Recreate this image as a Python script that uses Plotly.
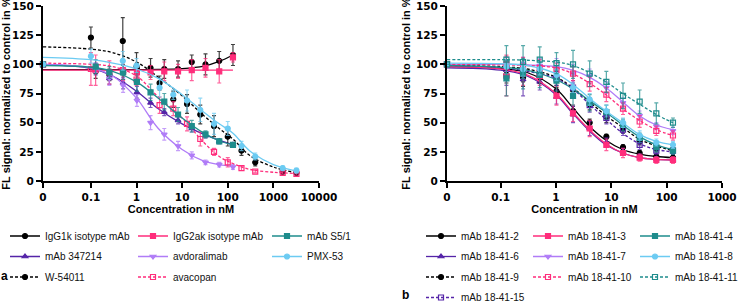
import math
import plotly.graph_objects as go

# ---------------- data ----------------
# concentrations (nM); 0 = untreated control
MAB_CONC = [0, 0.127, 0.254, 0.508, 1.02, 2.03, 4.06, 8.13, 16.25, 32.5, 65, 130]
SM_CONC = [0, 0.1, 0.5, 1, 3.2, 6.4, 12.8, 25, 50, 100, 200, 400, 1600, 3200]

# fitted-curve sample concentrations
CURVE_X_A = [0, 0.1, 0.3, 1, 3, 10, 30, 65, 130, 300, 1000, 3200]
CURVE_X_B = [0, 0.1, 0.3, 1, 2, 4, 8, 16, 32, 65, 130]

# panel a
igg1k_y = [100, 94, 91, 93, 96, 97, 96, 96, 102, 100, 103, 108]
igg1k_err = [0, 6, 5, 6, 5, 8, 8, 7, 6, 9, 8, 9]
igg1k_fit = [95.5, 95.5, 95.5, 95.5, 95.6, 96.3, 98.5, 102.5, 108, None, None, None]

igg2ak_y = [100, 95, 93, 94, 93, 93, 94, 94, 95, 97, 94, 106]
igg2ak_err = [0, 13, 10, 8, 5, 6, 8, 6, 9, 8, 10, 4]
igg2ak_fit = [95, 95, 95, 95, 95, 95, 95, 95, 95, None, None, None]

s51_y = [100, 98, 93, 93, 85, 76, 68, 57, 47, 40, 34, 31]
s51_err = [0, 6, 5, 6, 8, 7, 7, 6, 5, 3, 2, 2]
s51_fit = [99, 97.5, 94, 85, 71, 54, 41, 34.5, 31, None, None, None]

m347214_y = [100, 96, 88, 84, 76, 67, 59, 52, 45, 39, 34, 31]
m347214_err = [0, 5, 5, 5, 5, 4, 3, 3, 3, 2, 2, 2]
m347214_fit = [100, 96.5, 90, 77, 62, 49, 40, 35, 31, None, None, None]

avdor_y = [100, 97, 88, 82, 69, 50, 40, 30, 22, 16, 14, 12]
avdor_err = [0, 4, 6, 6, 5, 6, 5, 4, 3, 2, 2, 2]
avdor_fit = [100, 97, 90, 71, 45, 27, 17, 14, 12.5, None, None, None]

pmx_y = [100, 107, 103, 99, 80, 74, 69, 61, 49, 45, 30, 21, 11, 9]
pmx_err = [0, 6, 8, 6, 8, 4, 9, 10, 9, 6, 4, 3, 2, 2]
pmx_fit = [106, 104, 101, 96, 88, 74, 59, 49, 41, 26, 14, 8.5]

w54011_y = [100, 123, 120, 98, 84, 70, 66, 57, 47, 38, 26, 16, 8, 7]
w54011_err = [0, 9, 20, 12, 6, 7, 8, 8, 9, 8, 4, 3, 2, 2]
w54011_fit = [115, 113, 110, 102, 89, 73, 56, 45, 36, 22, 12, 7]

avac_y = [100, 96, 95, 87, 65, 62, 49, 36, 25, 16, 11, 8, 7, 6]
avac_err = [0, 14, 8, 5, 7, 6, 6, 6, 3, 4, 2, 1, 1, 1]
avac_fit = [101, 100, 98, 90, 72, 54, 33, 21, 15, 10, 7.5, 6.5]

# panel b
b2_y = [100, 91, 89, 89, 77, 60, 50, 38, 29, 24, 21, 20]
b2_err = [0, 7, 8, 5, 3, 4, 3, 2, 2, 2, 2, 2]
b2_fit = [98, 96.5, 93, 79, 63, 47, 35, 27, 23, 21, 20]

b3_y = [100, 90, 92, 90, 73, 58, 45, 31, 24, 20, 18, 18]
b3_err = [0, 17, 10, 8, 8, 7, 7, 5, 4, 3, 3, 3]
b3_fit = [98, 96, 91, 75, 59, 44, 32, 24, 20, 18.5, 18]

b4_y = [100, 88, 92, 91, 86, 73, 67, 59, 48, 37, 29, 26]
b4_err = [0, 15, 13, 11, 9, 8, 7, 6, 5, 4, 4, 3]
b4_fit = [99, 97.5, 95, 87, 79, 69, 59, 48, 38, 31, 27]

b6_y = [100, 90, 87, 85, 72, 57, 45, 33, 25, 21, 19, 18]
b6_err = [0, 8, 14, 7, 6, 7, 6, 4, 3, 2, 2, 2]
b6_fit = [97, 95, 90, 74, 58, 43, 31, 24, 20, 18.5, 18]

b7_y = [100, 100, 100, 99, 97, 92, 90, 80, 67, 56, 47, 43]
b7_err = [0, 6, 6, 6, 8, 8, 6, 5, 4, 4, 3, 3]
b7_fit = [100, 100, 99.5, 98, 95, 89, 80, 68, 56, 48, 44]

b8_y = [100, 98, 96, 96, 91, 80, 70, 60, 50, 39, 33, 31]
b8_err = [0, 6, 6, 5, 5, 4, 5, 5, 4, 4, 3, 3]
b8_fit = [101, 100.5, 99, 92, 83, 71, 60, 50, 40, 34, 31]

b9_y = [100, 95, 93, 90, 88, 78, 66, 55, 45, 34, 28, 26]
b9_err = [0, 8, 8, 6, 6, 6, 5, 5, 4, 3, 3, 3]
b9_fit = [99, 98, 96, 89, 80, 68, 56, 46, 36, 30, 26]

b10_y = [100, 100, 98, 97, 95, 92, 83, 74, 62, 51, 43, 39]
b10_err = [0, 8, 8, 7, 6, 6, 6, 6, 5, 5, 4, 4]
b10_fit = [100, 99.5, 99, 97, 92, 84, 74, 62, 52, 44, 39]

b11_y = [100, 104, 102, 104, 101, 100, 92, 85, 73, 68, 58, 50]
b11_err = [0, 12, 14, 11, 9, 12, 11, 9, 11, 10, 9, 4]
b11_fit = [104, 104, 103.5, 102, 99, 93, 85, 75, 66, 57, 50]

b15_y = [100, 96, 93, 91, 88, 80, 65, 54, 44, 31, 26, 26]
b15_err = [0, 8, 7, 6, 6, 6, 6, 5, 5, 4, 3, 3]
b15_fit = [98, 97, 94, 88, 79, 66, 53, 41, 32, 27, 25]

TICKS_A = ["0", "0.1", "1", "10", "100", "1000", "10000"]
TICKS_B = ["0", "0.1", "1", "10", "100", "1000"]
Y_TICKS = [0, 25, 50, 75, 100, 125, 150]

# ---------------- styling ----------------
BLACK = "#000000"
PINK = "#FF2D7B"
TEAL = "#1E8C8C"
PURPLE = "#5524A8"
LPURPLE = "#B07CF7"
LBLUE = "#6CCBF2"

W, H = 739, 304
ZA = 10 ** -2.05   # axis position used for concentration 0 (panel a)
ZB = 10 ** -1.97   # axis position used for concentration 0 (panel b)


def px_x(p):
    return p / W


def px_y(p):
    return 1 - p / H


def rgba(hexc, a):
    h = hexc.lstrip("#")
    return "rgba(%d,%d,%d,%.2f)" % (int(h[0:2], 16), int(h[2:4], 16), int(h[4:6], 16), a)


fig = go.Figure()


def add_series(name, conc, y, err, cx, cy, color, symbol, dash, zero, xa, ya, legend):
    xs = [zero if c == 0 else c for c in conc]
    cxs = [zero if c == 0 else c for c in cx]
    fig.add_trace(go.Scatter(
        x=cxs, y=cy, mode="lines", line=dict(color=color, width=1.3, dash=dash, shape="spline", smoothing=1.0),
        showlegend=False, hoverinfo="skip", xaxis=xa, yaxis=ya, connectgaps=False))
    fig.add_trace(go.Scatter(
        x=xs, y=y, mode="markers",
        marker=dict(color=color, symbol=symbol, size=5, line=dict(color=color, width=1.2)),
        error_y=dict(type="data", array=err, color=rgba(color, 0.75), thickness=1.2, width=2),
        showlegend=False, cliponaxis=False, xaxis=xa, yaxis=ya, name=name))
    fig.add_trace(go.Scatter(
        x=[None], y=[None], mode="lines+markers", name=name,
        line=dict(color=color, width=1.3, dash=dash),
        marker=dict(color=color, symbol=symbol, size=5, line=dict(color=color, width=1.2)),
        xaxis=xa, yaxis=ya, legend=legend, legendgroup=name))


SOLID = "solid"
DASH = "3px,2px"

# panel a
add_series("IgG1k isotype mAb", MAB_CONC, igg1k_y, igg1k_err, CURVE_X_A, igg1k_fit, BLACK, "circle", SOLID, ZA, "x", "y", "legend")
add_series("mAb 347214", MAB_CONC, m347214_y, m347214_err, CURVE_X_A, m347214_fit, PURPLE, "triangle-up", SOLID, ZA, "x", "y", "legend")
add_series("W-54011", SM_CONC, w54011_y, w54011_err, CURVE_X_A, w54011_fit, BLACK, "circle", DASH, ZA, "x", "y", "legend")
add_series("IgG2ak isotype mAb", MAB_CONC, igg2ak_y, igg2ak_err, CURVE_X_A, igg2ak_fit, PINK, "square", SOLID, ZA, "x", "y", "legend2")
add_series("avdoralimab", MAB_CONC, avdor_y, avdor_err, CURVE_X_A, avdor_fit, LPURPLE, "triangle-down", SOLID, ZA, "x", "y", "legend2")
add_series("avacopan", SM_CONC, avac_y, avac_err, CURVE_X_A, avac_fit, PINK, "square-open", DASH, ZA, "x", "y", "legend2")
add_series("mAb S5/1", MAB_CONC, s51_y, s51_err, CURVE_X_A, s51_fit, TEAL, "square", SOLID, ZA, "x", "y", "legend3")
add_series("PMX-53", SM_CONC, pmx_y, pmx_err, CURVE_X_A, pmx_fit, LBLUE, "circle", SOLID, ZA, "x", "y", "legend3")

# panel b
add_series("mAb 18-41-2", MAB_CONC, b2_y, b2_err, CURVE_X_B, b2_fit, BLACK, "circle", SOLID, ZB, "x2", "y2", "legend4")
add_series("mAb 18-41-6", MAB_CONC, b6_y, b6_err, CURVE_X_B, b6_fit, PURPLE, "triangle-up", SOLID, ZB, "x2", "y2", "legend4")
add_series("mAb 18-41-9", MAB_CONC, b9_y, b9_err, CURVE_X_B, b9_fit, BLACK, "circle", DASH, ZB, "x2", "y2", "legend4")
add_series("mAb 18-41-15", MAB_CONC, b15_y, b15_err, CURVE_X_B, b15_fit, PURPLE, "square-open", DASH, ZB, "x2", "y2", "legend4")
add_series("mAb 18-41-3", MAB_CONC, b3_y, b3_err, CURVE_X_B, b3_fit, PINK, "square", SOLID, ZB, "x2", "y2", "legend5")
add_series("mAb 18-41-7", MAB_CONC, b7_y, b7_err, CURVE_X_B, b7_fit, LPURPLE, "triangle-down", SOLID, ZB, "x2", "y2", "legend5")
add_series("mAb 18-41-10", MAB_CONC, b10_y, b10_err, CURVE_X_B, b10_fit, PINK, "square-open", DASH, ZB, "x2", "y2", "legend5")
add_series("mAb 18-41-4", MAB_CONC, b4_y, b4_err, CURVE_X_B, b4_fit, TEAL, "square", SOLID, ZB, "x2", "y2", "legend6")
add_series("mAb 18-41-8", MAB_CONC, b8_y, b8_err, CURVE_X_B, b8_fit, LBLUE, "circle", SOLID, ZB, "x2", "y2", "legend6")
add_series("mAb 18-41-11", MAB_CONC, b11_y, b11_err, CURVE_X_B, b11_fit, TEAL, "square-open", DASH, ZB, "x2", "y2", "legend6")

TICKFONT = dict(family="DejaVu Sans", size=10.5, color="black", weight="bold")
TITLEFONT = dict(family="Liberation Sans", size=11, color="black", weight="bold")
YTITLE = "FL signal: normalized to control in %"
XTITLE = "Concentration in nM"

axis_common = dict(showline=True, linewidth=2, linecolor="black", ticks="outside", ticklen=5,
                   tickwidth=2, tickcolor="black", showgrid=False, zeroline=False,
                   tickfont=TICKFONT, automargin=False, ticklabeloverflow="allow")

fig.update_layout(
    width=W, height=H, margin=dict(l=0, r=0, t=0, b=0, autoexpand=False),
    paper_bgcolor="white", plot_bgcolor="white", template="none",
    xaxis=dict(type="log", range=[math.log10(ZA), 4], domain=[px_x(43), px_x(319)], anchor="y",
               tickvals=[ZA, 0.1, 1, 10, 100, 1000, 10000], ticktext=TICKS_A,
               title=dict(text=XTITLE, font=TITLEFONT, standoff=4), **axis_common),
    yaxis=dict(range=[0, 150], domain=[px_y(181), px_y(6)], anchor="x", tickvals=Y_TICKS,
               title=dict(text=YTITLE, font=TITLEFONT, standoff=3), **axis_common),
    xaxis2=dict(type="log", range=[math.log10(ZB), 3], domain=[px_x(447), px_x(722)], anchor="y2",
                tickvals=[ZB, 0.1, 1, 10, 100, 1000], ticktext=TICKS_B,
                title=dict(text=XTITLE, font=TITLEFONT, standoff=4), **axis_common),
    yaxis2=dict(range=[0, 150], domain=[px_y(181), px_y(6)], anchor="x2", tickvals=Y_TICKS,
                title=dict(text=YTITLE, font=TITLEFONT, standoff=3), **axis_common),
    showlegend=True,
)

LEGFONT = dict(family="Liberation Sans", size=10, color="#111111")
leg_x = {"legend": 5, "legend2": 133, "legend3": 267, "legend4": 421, "legend5": 528, "legend6": 635}
for k, xp in leg_x.items():
    fig.update_layout(**{k: dict(x=px_x(xp), y=px_y(221.5), xanchor="left", yanchor="top",
                                 xref="paper", yref="paper", orientation="v",
                                 font=LEGFONT, bgcolor="rgba(0,0,0,0)", borderwidth=0,
                                 tracegroupgap=1.5, itemclick=False, itemdoubleclick=False)})

fig.add_annotation(text="<b>a</b>", x=px_x(4), y=px_y(276), xref="paper", yref="paper",
                   xanchor="center", yanchor="middle",
                   showarrow=False, font=dict(family="Liberation Sans", size=12, color="black"))
fig.add_annotation(text="<b>b</b>", x=px_x(405), y=px_y(295), xref="paper", yref="paper",
                   xanchor="center", yanchor="middle",
                   showarrow=False, font=dict(family="Liberation Sans", size=12, color="black"))

fig.write_html("out.html", config={"displayModeBar": False},
               post_script="document.body.style.margin='0px';document.body.style.overflow='hidden';")
